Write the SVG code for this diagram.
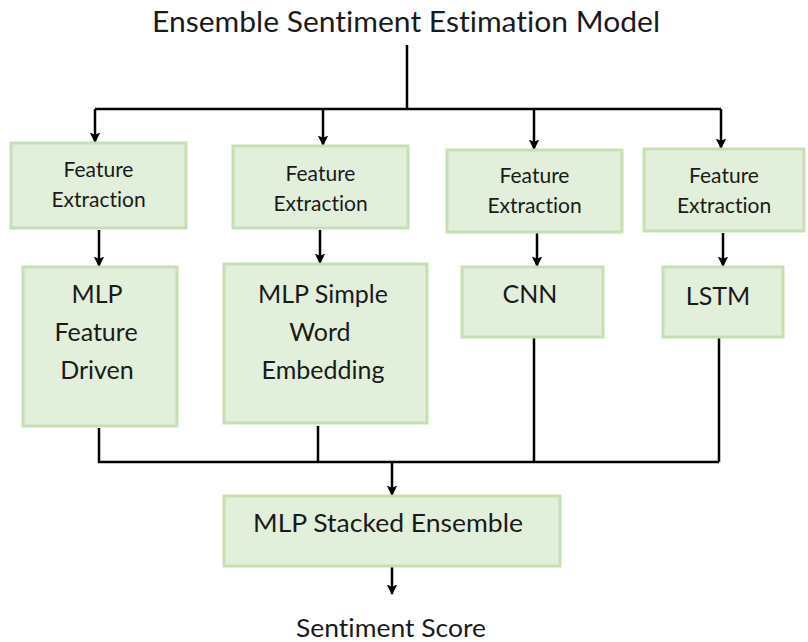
<svg xmlns="http://www.w3.org/2000/svg" width="808" height="642" viewBox="0 0 808 642">
  <defs>
    <style>
      .box { fill: #e2efda; stroke: #c6e0b4; stroke-width: 3; }
      .lbl { font-family: Lato, "Open Sans", "Liberation Sans", sans-serif; fill: #1a1a1a; text-anchor: middle;
             font-variant-ligatures: none; font-feature-settings: "liga" 0, "dlig" 0; }
      .fe { font-size: 21px; }
      .md { font-size: 25px; }
      .ttl { font-size: 29px; }
      .wire { fill: none; stroke: #000; stroke-width: 2.5; }
      .arr { marker-end: url(#head); }
    </style>
    <marker id="head" viewBox="0 0 10 10" refX="9" refY="5" markerWidth="4.2" markerHeight="4.2" orient="auto" markerUnits="strokeWidth">
      <path d="M0,0 L10,5 L0,10 L2,5 z" fill="#000"/>
    </marker>
  </defs>
  <rect width="808" height="642" fill="#fff"/>

  <!-- connectors -->
  <g id="connectors">
    <path class="wire" d="M407,45 V109 M95,109 H721"/>
    <path class="wire arr" d="M95,109 V142"/>
    <path class="wire arr" d="M323,109 V145"/>
    <path class="wire arr" d="M534,109 V149"/>
    <path class="wire arr" d="M721,109 V148"/>
    <path class="wire arr" d="M99,230 V266"/>
    <path class="wire arr" d="M320,230 V263"/>
    <path class="wire arr" d="M537,233 V266"/>
    <path class="wire arr" d="M723,233 V266"/>
    <path class="wire" d="M99,428 V462 H719 M318,426 V462 M534,338 V462 M719,338 V462"/>
    <path class="wire arr" d="M392,462 V495"/>
    <path class="wire arr" d="M392,567 V594"/>
  </g>

  <text class="lbl ttl" x="406" y="32" textLength="508" lengthAdjust="spacingAndGlyphs">Ensemble Sentiment Estimation Model</text>

  <g id="fe1">
    <rect class="box" x="11" y="143" width="175" height="85"/>
    <text class="lbl fe" x="98.5" y="177">Feature</text>
    <text class="lbl fe" x="98.5" y="207">Extraction</text>
  </g>
  <g id="fe2">
    <rect class="box" x="233" y="146" width="175" height="82"/>
    <text class="lbl fe" x="320.5" y="181">Feature</text>
    <text class="lbl fe" x="320.5" y="211">Extraction</text>
  </g>
  <g id="fe3">
    <rect class="box" x="447" y="150" width="175" height="82"/>
    <text class="lbl fe" x="534.5" y="183">Feature</text>
    <text class="lbl fe" x="534.5" y="213">Extraction</text>
  </g>
  <g id="fe4">
    <rect class="box" x="644" y="149" width="160" height="82"/>
    <text class="lbl fe" x="724" y="183">Feature</text>
    <text class="lbl fe" x="724" y="213">Extraction</text>
  </g>

  <g id="mlp-feature">
    <rect class="box" x="23" y="267" width="154" height="159"/>
    <text class="lbl md" x="97" y="303">MLP</text>
    <text class="lbl md" x="96" y="341">Feature</text>
    <text class="lbl md" x="97" y="379">Driven</text>
  </g>
  <g id="mlp-embedding">
    <rect class="box" x="224" y="264" width="203" height="159"/>
    <text class="lbl md" x="323" y="303">MLP Simple</text>
    <text class="lbl md" x="320" y="341">Word</text>
    <text class="lbl md" x="323" y="379">Embedding</text>
  </g>
  <g id="cnn">
    <rect class="box" x="462" y="267" width="141" height="70"/>
    <text class="lbl md" x="530" y="303">CNN</text>
  </g>
  <g id="lstm">
    <rect class="box" x="663" y="267" width="120" height="70"/>
    <text class="lbl md" x="718" y="305">LSTM</text>
  </g>

  <g id="stacked">
    <rect class="box" x="224" y="496" width="336" height="70"/>
    <text class="lbl md" x="388" y="532" textLength="270" lengthAdjust="spacingAndGlyphs">MLP Stacked Ensemble</text>
  </g>

  <text class="lbl md" x="391" y="637" textLength="190" lengthAdjust="spacingAndGlyphs">Sentiment Score</text>
</svg>
